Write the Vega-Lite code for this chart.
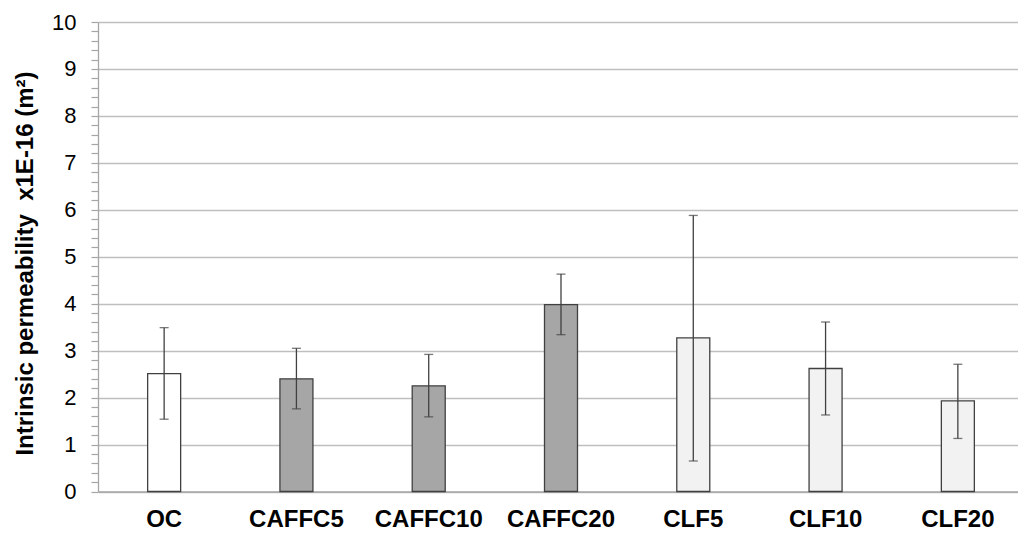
{
  "$schema": "https://vega.github.io/schema/vega-lite/v6.json",
  "autosize": "none",
  "width": 920,
  "height": 469.5,
  "padding": {"left": 98, "top": 22, "right": 0, "bottom": 44.5},
  "background": "white",
  "config": {
    "view": {"stroke": null},
    "font": "Liberation Sans"
  },
  "data": {
    "values": [
      {"sample": "OC", "group": "OC", "value": 2.51, "low": 1.54, "high": 3.49},
      {"sample": "CAFFC5", "group": "CAFFC", "value": 2.40, "low": 1.76, "high": 3.05},
      {"sample": "CAFFC10", "group": "CAFFC", "value": 2.25, "low": 1.59, "high": 2.92},
      {"sample": "CAFFC20", "group": "CAFFC", "value": 3.98, "low": 3.34, "high": 4.63},
      {"sample": "CLF5", "group": "CLF", "value": 3.27, "low": 0.65, "high": 5.88},
      {"sample": "CLF10", "group": "CLF", "value": 2.62, "low": 1.63, "high": 3.61},
      {"sample": "CLF20", "group": "CLF", "value": 1.93, "low": 1.13, "high": 2.71}
    ]
  },
  "encoding": {
    "x": {
      "field": "sample",
      "type": "nominal",
      "sort": null,
      "scale": {"range": [0, 926], "paddingInner": 0, "paddingOuter": 0},
      "axis": {
        "title": null,
        "labelAngle": 0,
        "labelFontSize": 24,
        "labelFontWeight": "bold",
        "labelColor": "#000000",
        "labelPadding": 16,
        "ticks": false,
        "domainColor": "#a6a6a6",
        "domainWidth": 1.3,
        "grid": false
      }
    }
  },
  "layer": [
    {
      "mark": {"type": "bar", "width": 33, "stroke": "#404040", "strokeWidth": 1.3},
      "encoding": {
        "y": {
          "field": "value",
          "type": "quantitative",
          "scale": {"domain": [0, 10], "nice": false},
          "axis": {
            "title": "Intrinsic permeability\u00a0 x1E-16 (m²)",
            "titleFontSize": 24,
            "titleFontWeight": "bold",
            "titleColor": "#000000",
            "titleAngle": 270,
            "titleBaseline": "alphabetic",
            "titleX": -66,
            "titleY": 241,
            "values": [0, 0.2, 0.4, 0.6, 0.8, 1, 1.2, 1.4, 1.6, 1.8, 2, 2.2, 2.4, 2.6, 2.8, 3, 3.2, 3.4, 3.6, 3.8, 4, 4.2, 4.4, 4.6, 4.8, 5, 5.2, 5.4, 5.6, 5.8, 6, 6.2, 6.4, 6.6, 6.8, 7, 7.2, 7.4, 7.6, 7.8, 8, 8.2, 8.4, 8.6, 8.8, 9, 9.2, 9.4, 9.6, 9.8, 10],
            "labelExpr": "abs(datum.value - round(datum.value)) < 0.001 ? format(datum.value, 'd') : ''",
            "labelOverlap": false,
            "labelFontSize": 22,
            "labelColor": "#000000",
            "labelPadding": 15,
            "tickSize": 7,
            "tickColor": "#a6a6a6",
            "tickWidth": 1.2,
            "domainColor": "#a6a6a6",
            "domainWidth": 1.3,
            "grid": true,
            "gridColor": "#bfbfbf",
            "gridWidth": 1.3,
            "gridOpacity": {"condition": {"test": "abs(datum.value - round(datum.value)) < 0.001", "value": 1}, "value": 0}
          }
        },
        "fill": {
          "field": "group",
          "type": "nominal",
          "scale": {"domain": ["OC", "CAFFC", "CLF"], "range": ["#ffffff", "#a6a6a6", "#f2f2f2"]},
          "legend": null
        }
      }
    },
    {
      "mark": {"type": "rule", "color": "#404040", "strokeWidth": 1.3},
      "encoding": {
        "y": {
          "field": "low",
          "type": "quantitative",
          "axis": {
            "title": "Intrinsic permeability\u00a0 x1E-16 (m²)",
            "titleFontSize": 24,
            "titleFontWeight": "bold",
            "titleColor": "#000000",
            "titleAngle": 270,
            "titleBaseline": "alphabetic",
            "titleX": -66,
            "titleY": 241,
            "values": [0, 0.2, 0.4, 0.6, 0.8, 1, 1.2, 1.4, 1.6, 1.8, 2, 2.2, 2.4, 2.6, 2.8, 3, 3.2, 3.4, 3.6, 3.8, 4, 4.2, 4.4, 4.6, 4.8, 5, 5.2, 5.4, 5.6, 5.8, 6, 6.2, 6.4, 6.6, 6.8, 7, 7.2, 7.4, 7.6, 7.8, 8, 8.2, 8.4, 8.6, 8.8, 9, 9.2, 9.4, 9.6, 9.8, 10],
            "labelExpr": "abs(datum.value - round(datum.value)) < 0.001 ? format(datum.value, 'd') : ''",
            "labelOverlap": false,
            "labelFontSize": 22,
            "labelColor": "#000000",
            "labelPadding": 15,
            "tickSize": 7,
            "tickColor": "#a6a6a6",
            "tickWidth": 1.2,
            "domainColor": "#a6a6a6",
            "domainWidth": 1.3,
            "grid": true,
            "gridColor": "#bfbfbf",
            "gridWidth": 1.3,
            "gridOpacity": {"condition": {"test": "abs(datum.value - round(datum.value)) < 0.001", "value": 1}, "value": 0}
          }
        },
        "y2": {"field": "high"}
      }
    },
    {
      "mark": {"type": "tick", "color": "#404040", "size": 9, "thickness": 1.3},
      "encoding": {
        "y": {
          "field": "low",
          "type": "quantitative",
          "axis": {
            "title": "Intrinsic permeability\u00a0 x1E-16 (m²)",
            "titleFontSize": 24,
            "titleFontWeight": "bold",
            "titleColor": "#000000",
            "titleAngle": 270,
            "titleBaseline": "alphabetic",
            "titleX": -66,
            "titleY": 241,
            "values": [0, 0.2, 0.4, 0.6, 0.8, 1, 1.2, 1.4, 1.6, 1.8, 2, 2.2, 2.4, 2.6, 2.8, 3, 3.2, 3.4, 3.6, 3.8, 4, 4.2, 4.4, 4.6, 4.8, 5, 5.2, 5.4, 5.6, 5.8, 6, 6.2, 6.4, 6.6, 6.8, 7, 7.2, 7.4, 7.6, 7.8, 8, 8.2, 8.4, 8.6, 8.8, 9, 9.2, 9.4, 9.6, 9.8, 10],
            "labelExpr": "abs(datum.value - round(datum.value)) < 0.001 ? format(datum.value, 'd') : ''",
            "labelOverlap": false,
            "labelFontSize": 22,
            "labelColor": "#000000",
            "labelPadding": 15,
            "tickSize": 7,
            "tickColor": "#a6a6a6",
            "tickWidth": 1.2,
            "domainColor": "#a6a6a6",
            "domainWidth": 1.3,
            "grid": true,
            "gridColor": "#bfbfbf",
            "gridWidth": 1.3,
            "gridOpacity": {"condition": {"test": "abs(datum.value - round(datum.value)) < 0.001", "value": 1}, "value": 0}
          }
        }
      }
    },
    {
      "mark": {"type": "tick", "color": "#404040", "size": 9, "thickness": 1.3},
      "encoding": {
        "y": {
          "field": "high",
          "type": "quantitative",
          "axis": {
            "title": "Intrinsic permeability\u00a0 x1E-16 (m²)",
            "titleFontSize": 24,
            "titleFontWeight": "bold",
            "titleColor": "#000000",
            "titleAngle": 270,
            "titleBaseline": "alphabetic",
            "titleX": -66,
            "titleY": 241,
            "values": [0, 0.2, 0.4, 0.6, 0.8, 1, 1.2, 1.4, 1.6, 1.8, 2, 2.2, 2.4, 2.6, 2.8, 3, 3.2, 3.4, 3.6, 3.8, 4, 4.2, 4.4, 4.6, 4.8, 5, 5.2, 5.4, 5.6, 5.8, 6, 6.2, 6.4, 6.6, 6.8, 7, 7.2, 7.4, 7.6, 7.8, 8, 8.2, 8.4, 8.6, 8.8, 9, 9.2, 9.4, 9.6, 9.8, 10],
            "labelExpr": "abs(datum.value - round(datum.value)) < 0.001 ? format(datum.value, 'd') : ''",
            "labelOverlap": false,
            "labelFontSize": 22,
            "labelColor": "#000000",
            "labelPadding": 15,
            "tickSize": 7,
            "tickColor": "#a6a6a6",
            "tickWidth": 1.2,
            "domainColor": "#a6a6a6",
            "domainWidth": 1.3,
            "grid": true,
            "gridColor": "#bfbfbf",
            "gridWidth": 1.3,
            "gridOpacity": {"condition": {"test": "abs(datum.value - round(datum.value)) < 0.001", "value": 1}, "value": 0}
          }
        }
      }
    }
  ]
}
